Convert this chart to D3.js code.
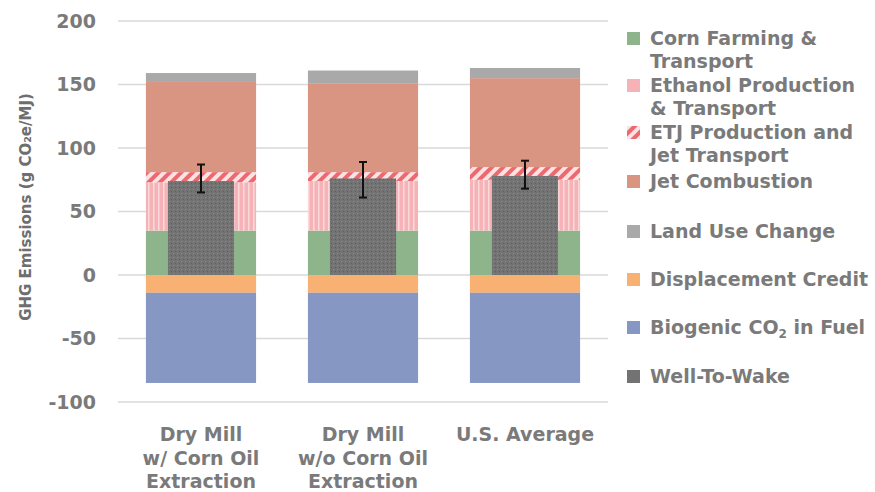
<!DOCTYPE html>
<html><head><meta charset="utf-8">
<script src="https://cdn.jsdelivr.net/npm/d3@7"></script>
<style>body{margin:0;background:#fff;}svg{display:block;}</style>
</head><body>
<svg id="c" width="875" height="492"></svg>
<script>
const categories = ["Dry Mill\nw/ Corn Oil\nExtraction", "Dry Mill\nw/o Corn Oil\nExtraction", "U.S. Average"];
const cornFarming   = [35, 35, 35];
const ethanolProd   = [38, 39, 40];
const etjProd       = [8, 7, 10];
const jetCombustion = [71, 70, 70];
const landUse       = [7, 10, 8];
const displacement  = [-14, -14, -14];
const biogenic      = [-71, -71, -71];
const wellToWake    = [74, 76, 78];
const errLow        = [65, 61, 68];
const errHigh       = [87, 89, 90];
const yTicks = [-100, -50, 0, 50, 100, 150, 200];
const legendLabels = [
  {t:["Corn Farming &","Transport"], k:"corn"},
  {t:["Ethanol Production","& Transport"], k:"eth"},
  {t:["ETJ Production and","Jet Transport"], k:"etj"},
  {t:["Jet Combustion"], k:"jet"},
  {t:["Land Use Change"], k:"luc"},
  {t:["Displacement Credit"], k:"disp"},
  {t:["Biogenic CO","2"," in Fuel"], k:"bio", sub:true},
  {t:["Well-To-Wake"], k:"wtw"}
];

const FONT = "DejaVu Sans";
const TXT = "#7a7a7a";
const svg = d3.select("#c");
const defs = svg.append("defs");
const ph = defs.append("pattern").attr("id","hatch").attr("patternUnits","userSpaceOnUse")
  .attr("width",8).attr("height",8).attr("patternTransform","rotate(45)");
ph.append("rect").attr("width",8).attr("height",8).attr("fill","#fbe3e3");
ph.append("rect").attr("width",4).attr("height",8).attr("fill","#ec6a6f");
const pe = defs.append("pattern").attr("id","eth").attr("patternUnits","userSpaceOnUse")
  .attr("width",5).attr("height",5);
pe.append("rect").attr("width",5).attr("height",5).attr("fill","#f5b3b8");
pe.append("rect").attr("x",3).attr("width",1.5).attr("height",5).attr("fill","#fbd9db");
const pw = defs.append("pattern").attr("id","wtw").attr("patternUnits","userSpaceOnUse")
  .attr("width",4).attr("height",4);
pw.append("rect").attr("width",4).attr("height",4).attr("fill","#737373");
pw.append("rect").attr("x",1).attr("y",1).attr("width",1).attr("height",1).attr("fill","#8c8c8c");
pw.append("rect").attr("x",3).attr("y",3).attr("width",1).attr("height",1).attr("fill","#5e5e5e");

const fills = {corn:"#8db48a", eth:"url(#eth)", etj:"url(#hatch)", jet:"#d99582", luc:"#a9a9a9",
  disp:"#f8b173", bio:"#8797c4", wtw:"url(#wtw)"};
const legFill = {corn:"#8db48a", eth:"#f5b3b8", etj:"url(#hatch)", jet:"#d99582", luc:"#a9a9a9",
  disp:"#f8b173", bio:"#8797c4", wtw:"#737373"};

const x = d3.scaleBand().domain(categories).range([120, 606]).paddingInner(0.32).paddingOuter(0.16);
const y = d3.scaleLinear().domain([-100, 200]).range([402, 21]);

svg.append("g").selectAll("line").data(yTicks).join("line")
  .attr("x1",118).attr("x2",608).attr("y1",d=>y(d)).attr("y2",d=>y(d))
  .attr("stroke","#d9d9d9").attr("stroke-width",1.5);

svg.append("g").selectAll("text").data(yTicks).join("text")
  .attr("x",96).attr("y",d=>y(d)).attr("dy","0.36em").attr("text-anchor","end")
  .attr("font-family",FONT).attr("font-weight",700).attr("font-size",19).attr("fill",TXT)
  .text(d=>d);

svg.append("text").attr("transform","translate(31,207) rotate(-90)").attr("text-anchor","middle")
  .attr("font-family",FONT).attr("font-weight",700).attr("font-size",15).attr("fill","#6e6e6e")
  .text("GHG Emissions (g CO\u2082e/MJ)");

const posKeys = [["corn",cornFarming],["eth",ethanolProd],["etj",etjProd],["jet",jetCombustion],["luc",landUse]];
const negKeys = [["disp",displacement],["bio",biogenic]];
const g = svg.append("g");
categories.forEach((c,i)=>{
  let base = 0;
  posKeys.forEach(([k,arr])=>{
    const v = arr[i];
    g.append("rect").attr("x",x(c)).attr("width",x.bandwidth())
      .attr("y",y(base+v)).attr("height",y(base)-y(base+v)).attr("fill",fills[k]);
    base += v;
  });
  base = 0;
  negKeys.forEach(([k,arr])=>{
    const v = arr[i];
    g.append("rect").attr("x",x(c)).attr("width",x.bandwidth())
      .attr("y",y(base)).attr("height",y(base+v)-y(base)).attr("fill",fills[k]);
    base += v;
  });
  const iw = x.bandwidth()*0.6;
  const cx = x(c)+x.bandwidth()/2;
  g.append("rect").attr("x",cx-iw/2).attr("width",iw).attr("y",y(wellToWake[i]))
    .attr("height",y(0)-y(wellToWake[i])).attr("fill",fills.wtw);
  g.append("line").attr("x1",cx).attr("x2",cx).attr("y1",y(errLow[i])).attr("y2",y(errHigh[i]))
    .attr("stroke","#111").attr("stroke-width",2);
  [errLow[i],errHigh[i]].forEach(v=>g.append("line").attr("x1",cx-4).attr("x2",cx+4)
    .attr("y1",y(v)).attr("y2",y(v)).attr("stroke","#111").attr("stroke-width",2));
});

categories.forEach(c=>{
  const t = svg.append("text").attr("text-anchor","middle").attr("font-family",FONT)
    .attr("font-weight",700).attr("font-size",19).attr("fill",TXT);
  c.split("\n").forEach((ln,j)=>t.append("tspan").attr("x",x(c)+x.bandwidth()/2).attr("y",441+j*23.5).text(ln));
});

const legY = [45, 92, 139, 188, 238, 286, 334, 383];
legendLabels.forEach((d,i)=>{
  const yy = legY[i];
  svg.append("rect").attr("x",627).attr("y",yy-13).attr("width",13).attr("height",13).attr("fill",legFill[d.k]);
  const t = svg.append("text").attr("font-family",FONT).attr("font-weight",700)
    .attr("font-size",19).attr("fill",TXT);
  if(d.sub){
    const tt = t.attr("x",650).attr("y",yy);
    tt.append("tspan").text(d.t[0]);
    tt.append("tspan").attr("font-size",12).attr("dy",4).text(d.t[1]);
    tt.append("tspan").attr("dy",-4).text(d.t[2]);
  } else {
    d.t.forEach((ln,j)=>t.append("tspan").attr("x",650).attr("y",yy+j*23).text(ln));
  }
});
</script>
</body></html>
